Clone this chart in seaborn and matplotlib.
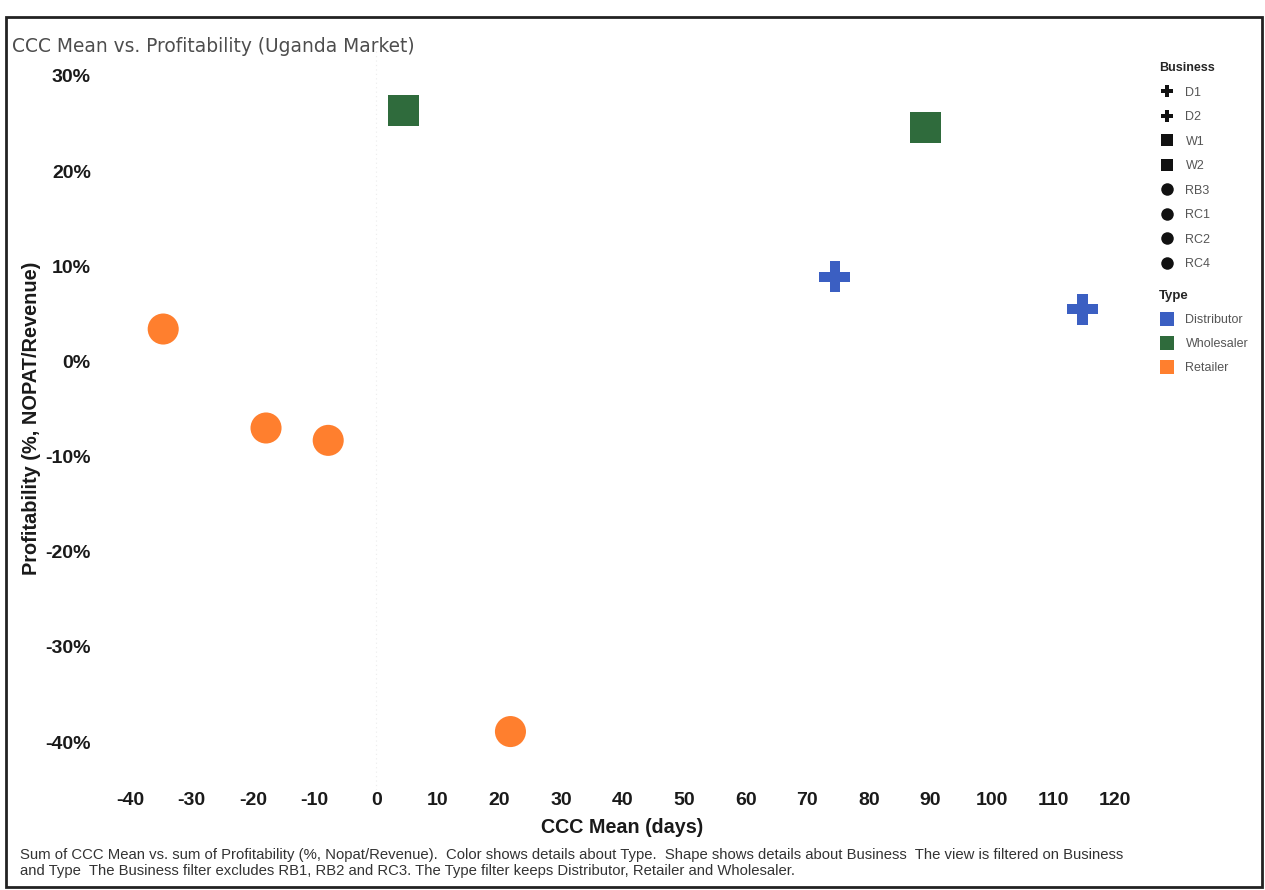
import matplotlib
matplotlib.use("Agg")
import matplotlib.pyplot as plt
from matplotlib.lines import Line2D
from matplotlib.patches import Rectangle
import matplotlib.ticker as mticker
import pandas as pd
import seaborn as sns

# Data: cash conversion cycle (days) vs profitability (% NOPAT/Revenue)
businesses = ["D1", "D2", "W1", "W2", "RB3", "RC1", "RC2", "RC4"]
types = ["Distributor", "Distributor", "Wholesaler", "Wholesaler",
         "Retailer", "Retailer", "Retailer", "Retailer"]
ccc_mean = [74.5, 114.7, 4.5, 89.2, -34.6, -17.9, -7.8, 21.8]
profitability = [8.9, 5.5, 26.4, 24.6, 3.4, -7.0, -8.3, -38.9]

type_order = ["Distributor", "Wholesaler", "Retailer"]
type_colors = {"Distributor": "#3b5fc2", "Wholesaler": "#2f6b3c", "Retailer": "#ff7f2e"}
business_markers = {"D1": "P", "D2": "P", "W1": "s", "W2": "s",
                    "RB3": "o", "RC1": "o", "RC2": "o", "RC4": "o"}

x_ticks = list(range(-40, 121, 10))
y_ticks = list(range(-40, 31, 10))

df = pd.DataFrame({"Business": businesses, "Type": types,
                   "CCC": ccc_mean, "Profit": profitability})

sns.set_theme(style="white")
plt.rcParams["font.family"] = ["Liberation Sans", "DejaVu Sans"]
plt.rcParams["axes.unicode_minus"] = False

fig = plt.figure(figsize=(12.65, 8.9), dpi=100)
ax = fig.add_axes([0.0784, 0.1128, 0.8274, 0.834])

ax.axvline(0, color="#ececec", lw=0.8, ls=(0, (1, 3)), zorder=0)

sns.scatterplot(data=df, x="CCC", y="Profit", hue="Type", hue_order=type_order,
                palette=type_colors, style="Business", markers=business_markers,
                style_order=businesses, s=500, linewidth=0, alpha=1,
                legend=False, ax=ax, zorder=3)

ax.set_xlim(-45, 125)
ax.set_ylim(-45, 33)
ax.set_xticks(x_ticks)
ax.set_yticks(y_ticks)
ax.yaxis.set_major_formatter(mticker.FuncFormatter(lambda v, p: f"{int(v)}%"))
ax.tick_params(axis="x", length=0, pad=2, labelsize=14)
ax.tick_params(axis="y", length=0, pad=6, labelsize=14)
for lbl in ax.get_xticklabels() + ax.get_yticklabels():
    lbl.set_fontweight("bold")
    lbl.set_color("#1a1a1a")
for s in ax.spines.values():
    s.set_visible(False)

ax.set_xlabel("CCC Mean (days)", fontsize=14.2, fontweight="bold", color="#1a1a1a", labelpad=6)
ax.set_ylabel("Profitability (%, NOPAT/Revenue)", fontsize=14.4, fontweight="bold",
              color="#1a1a1a", labelpad=3)

# Title
fig.text(12 / 1265, 1 - 46 / 890, "CCC Mean vs. Profitability (Uganda Market)",
         fontsize=13.4, color="#4d4d4d", family="DejaVu Sans", va="center", ha="left")

# Legends: shape by Business, colour by Type
shape_handles = [Line2D([], [], marker=business_markers[b], color="#111111", ls="none",
                        markersize=9 if business_markers[b] != "s" else 8.5,
                        markeredgewidth=0) for b in businesses]
leg1 = fig.legend(shape_handles, businesses, title="Business", loc="upper left",
                  bbox_to_anchor=(1153 / 1265, 1 - 56 / 890), frameon=False,
                  fontsize=9, title_fontsize=9, labelspacing=1.0,
                  handlelength=1.3, handletextpad=0.8, borderpad=0, alignment="left")
leg1.get_title().set_fontweight("bold")
for t in leg1.get_texts():
    t.set_color("#555555")

type_handles = [Line2D([], [], marker="s", color=type_colors[t], ls="none",
                       markersize=10.5, markeredgewidth=0) for t in type_order]
leg2 = fig.legend(type_handles, type_order, title="Type", loc="upper left",
                  bbox_to_anchor=(1153 / 1265, 1 - 284 / 890), frameon=False,
                  fontsize=9, title_fontsize=9.5, labelspacing=0.95,
                  handlelength=1.3, handletextpad=0.8, borderpad=0, alignment="left")
leg2.get_title().set_fontweight("bold")
for t in leg2.get_texts():
    t.set_color("#555555")

# Caption
caption = ("Sum of CCC Mean vs. sum of Profitability (%, Nopat/Revenue).  Color shows details about Type.  "
           "Shape shows details about Business  The view is filtered on Business\n"
           "and Type  The Business filter excludes RB1, RB2 and RC3. The Type filter keeps "
           "Distributor, Retailer and Wholesaler.")
fig.text(20 / 1265, 1 - 848 / 890, caption, fontsize=10.7, color="#333333",
         va="top", ha="left", linespacing=1.2)

# Outer frame
fig.patches.append(Rectangle((6 / 1265, 3 / 890), 1256 / 1265, 870 / 890,
                             transform=fig.transFigure, fill=False,
                             edgecolor="#222222", lw=2))

fig.savefig("out.png", dpi=100, facecolor="white")
